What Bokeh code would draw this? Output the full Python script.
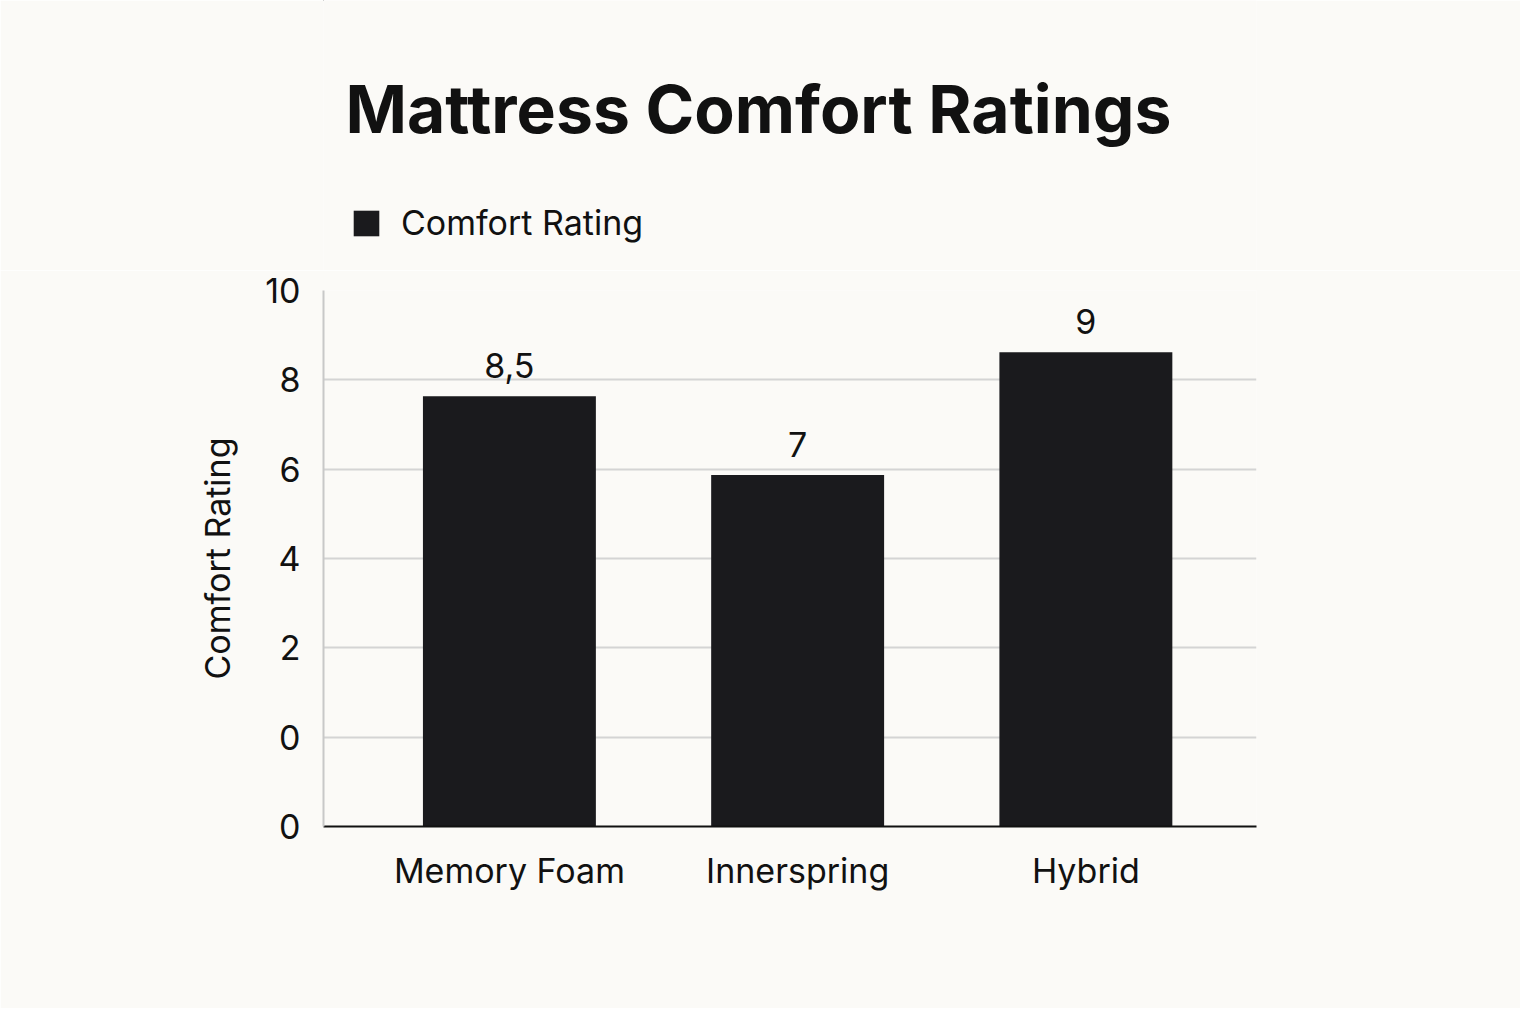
from bokeh.plotting import figure
from bokeh.layouts import column
from bokeh.models import Range1d, FixedTicker, Label, Legend, LegendItem, ColumnDataSource, LabelSet
from bokeh.core.properties import value
from bokeh.embed import file_html
from bokeh.resources import INLINE

# ---- data ----
categories = ["Memory Foam", "Innerspring", "Hybrid"]
value_labels = ["8,5", "7", "9"]
# bar tops as drawn, in axis-position units (gridline labelled "0" = 0)
bar_tops = [7.63, 5.87, 8.62]
y_tick_positions = [-2, 0, 2, 4, 6, 8, 10]
y_tick_labels = ["0", "0", "2", "4", "6", "8", "10"]
series_name = "Comfort Rating"
chart_title = "Mattress Comfort Ratings"

FONT = "Inter"
BG = "#fbfaf7"
BAR = "#1a1a1d"
INK = "#111111"
FS = "34px"
W = 1520
LEFT, RIGHT = 323, 264
HEAD_H = 270
OFF = 100  # header coordinate offset so the legend proxy stays out of view

x = list(range(len(categories)))
src = ColumnDataSource(dict(x=x, top=bar_tops, bottom=[-2] * len(x), lab=value_labels))

# ---------- header figure: title + legend (pixel-like ranges) ----------
head = figure(width=W, height=HEAD_H, output_backend="svg", toolbar_location=None,
              x_range=Range1d(LEFT, W - RIGHT), y_range=Range1d(HEAD_H + OFF, OFF),
              x_axis_location=None, y_axis_location=None,
              min_border_left=LEFT, min_border_right=RIGHT, min_border_top=0, min_border_bottom=0)
head.background_fill_color = BG
head.border_fill_color = BG
head.outline_line_color = None
head.grid.visible = False

# legend proxy: same data, falls outside the header's visible range
proxy = head.vbar(x="x", top="top", bottom="bottom", width=0.6, source=src,
                  fill_color=BAR, line_color=None)

head.add_layout(Label(x=758, y=108 + OFF, text=chart_title, text_align="center",
                      text_baseline="middle", text_font=FONT, text_font_size="66px",
                      text_font_style="bold", text_color=INK))

legend = Legend(items=[LegendItem(label=series_name, renderers=[proxy])],
                location=(27, 27), orientation="horizontal",
                glyph_width=32, glyph_height=32, label_standoff=19,
                label_text_font=FONT, label_text_font_size=FS, label_text_color=INK,
                border_line_color=None, background_fill_alpha=0, padding=4, margin=0)
head.add_layout(legend)

# ---------- main chart ----------
p = figure(width=W, height=1008 - HEAD_H, output_backend="svg", toolbar_location=None,
           x_range=Range1d(-0.645, 2.592), y_range=Range1d(-2, 10),
           min_border_left=LEFT, min_border_right=RIGHT, min_border_top=290 - HEAD_H,
           min_border_bottom=182)
p.background_fill_color = BG
p.border_fill_color = BG
p.outline_line_color = None

r = p.vbar(x="x", top="top", bottom="bottom", width=0.6, source=src, fill_color=BAR, line_color=None)

labels = LabelSet(x="x", y="top", text="lab", source=src, text_align="center",
                  text_baseline="alphabetic", y_offset=18,
                  text_font=value(FONT), text_font_size=FS, text_color=INK)
p.add_layout(labels)

p.xaxis.ticker = FixedTicker(ticks=x)
p.xaxis.major_label_overrides = {i: c for i, c in zip(x, categories)}
p.xaxis.major_label_text_font = FONT
p.xaxis.major_label_text_font_size = FS
p.xaxis.major_label_text_color = INK
p.xaxis.major_label_standoff = 17
p.xaxis.major_tick_line_color = None
p.xaxis.minor_tick_line_color = None
p.xaxis.axis_line_color = INK
p.xaxis.axis_line_width = 2

p.yaxis.ticker = FixedTicker(ticks=y_tick_positions)
p.yaxis.major_label_overrides = {t: l for t, l in zip(y_tick_positions, y_tick_labels)}
p.yaxis.major_label_text_font = FONT
p.yaxis.major_label_text_font_size = FS
p.yaxis.major_label_text_color = INK
p.yaxis.major_label_standoff = 17
p.yaxis.major_tick_line_color = None
p.yaxis.minor_tick_line_color = None
p.yaxis.axis_line_color = "#c8c8c8"
p.yaxis.axis_line_width = 2
p.yaxis.axis_label = series_name
p.yaxis.axis_label_text_font = FONT
p.yaxis.axis_label_text_font_size = FS
p.yaxis.axis_label_text_font_style = "normal"
p.yaxis.axis_label_text_color = INK
p.yaxis.axis_label_standoff = 24

p.xgrid.grid_line_color = None
p.ygrid.grid_line_color = "#d4d4d4"
p.ygrid.grid_line_width = 2

layout = column(head, p, spacing=0)
open("out.html", "w").write(file_html(layout, INLINE))
